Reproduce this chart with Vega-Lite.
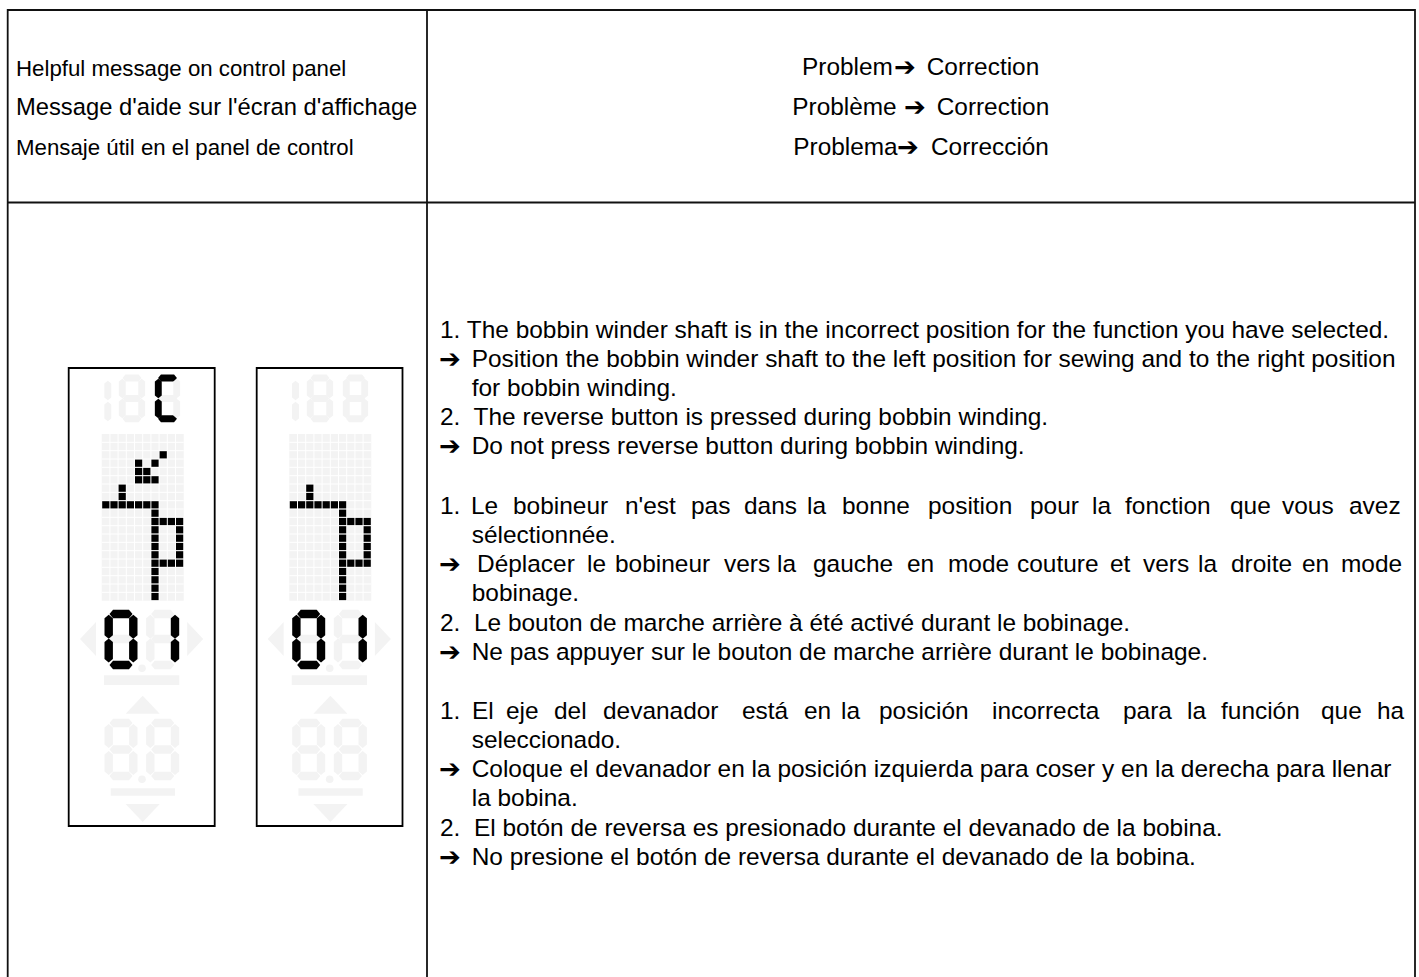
{"$schema":"https://vega.github.io/schema/vega-lite/v6.json","autosize":{"type":"none"},"padding":0,"width":1419,"height":977,"background":"white","view":{"stroke":null},
"config":{"text":{"font":"Liberation Sans, DejaVu Sans","color":"#000000","align":"left","baseline":"alphabetic"}},
"datasets":{
"panelRects":[{"x":101.7,"x2":183.7,"y":434,"y2":600.7},{"x":289.3,"x2":371.3,"y":434,"y2":600.7},{"x":104,"x2":179.3,"y":675.3,"y2":685},{"x":110.7,"x2":175,"y":788.3,"y2":795.7},{"x":291.7,"x2":367,"y":675.3,"y2":685},{"x":298.4,"x2":362.7,"y":788.3,"y2":795.7}],
"grid":[{"x":109.9,"x2":109.9,"y":434,"y2":600.7},{"x":118.1,"x2":118.1,"y":434,"y2":600.7},{"x":126.3,"x2":126.3,"y":434,"y2":600.7},{"x":134.5,"x2":134.5,"y":434,"y2":600.7},{"x":142.7,"x2":142.7,"y":434,"y2":600.7},{"x":150.9,"x2":150.9,"y":434,"y2":600.7},{"x":159.1,"x2":159.1,"y":434,"y2":600.7},{"x":167.3,"x2":167.3,"y":434,"y2":600.7},{"x":175.5,"x2":175.5,"y":434,"y2":600.7},
{"x":297.5,"x2":297.5,"y":434,"y2":600.7},{"x":305.7,"x2":305.7,"y":434,"y2":600.7},{"x":313.9,"x2":313.9,"y":434,"y2":600.7},{"x":322.1,"x2":322.1,"y":434,"y2":600.7},{"x":330.3,"x2":330.3,"y":434,"y2":600.7},{"x":338.5,"x2":338.5,"y":434,"y2":600.7},{"x":346.7,"x2":346.7,"y":434,"y2":600.7},{"x":354.9,"x2":354.9,"y":434,"y2":600.7},{"x":363.1,"x2":363.1,"y":434,"y2":600.7},
{"x":101.7,"x2":183.7,"y":442.3,"y2":442.3},{"x":101.7,"x2":183.7,"y":450.7,"y2":450.7},{"x":101.7,"x2":183.7,"y":459,"y2":459},{"x":101.7,"x2":183.7,"y":467.3,"y2":467.3},{"x":101.7,"x2":183.7,"y":475.7,"y2":475.7},{"x":101.7,"x2":183.7,"y":484,"y2":484},{"x":101.7,"x2":183.7,"y":492.3,"y2":492.3},{"x":101.7,"x2":183.7,"y":500.7,"y2":500.7},{"x":101.7,"x2":183.7,"y":509,"y2":509},{"x":101.7,"x2":183.7,"y":517.3,"y2":517.3},{"x":101.7,"x2":183.7,"y":525.7,"y2":525.7},{"x":101.7,"x2":183.7,"y":534,"y2":534},{"x":101.7,"x2":183.7,"y":542.3,"y2":542.3},{"x":101.7,"x2":183.7,"y":550.7,"y2":550.7},{"x":101.7,"x2":183.7,"y":559,"y2":559},{"x":101.7,"x2":183.7,"y":567.3,"y2":567.3},{"x":101.7,"x2":183.7,"y":575.7,"y2":575.7},{"x":101.7,"x2":183.7,"y":584,"y2":584},{"x":101.7,"x2":183.7,"y":592.3,"y2":592.3},
{"x":289.3,"x2":371.3,"y":442.3,"y2":442.3},{"x":289.3,"x2":371.3,"y":450.7,"y2":450.7},{"x":289.3,"x2":371.3,"y":459,"y2":459},{"x":289.3,"x2":371.3,"y":467.3,"y2":467.3},{"x":289.3,"x2":371.3,"y":475.7,"y2":475.7},{"x":289.3,"x2":371.3,"y":484,"y2":484},{"x":289.3,"x2":371.3,"y":492.3,"y2":492.3},{"x":289.3,"x2":371.3,"y":500.7,"y2":500.7},{"x":289.3,"x2":371.3,"y":509,"y2":509},{"x":289.3,"x2":371.3,"y":517.3,"y2":517.3},{"x":289.3,"x2":371.3,"y":525.7,"y2":525.7},{"x":289.3,"x2":371.3,"y":534,"y2":534},{"x":289.3,"x2":371.3,"y":542.3,"y2":542.3},{"x":289.3,"x2":371.3,"y":550.7,"y2":550.7},{"x":289.3,"x2":371.3,"y":559,"y2":559},{"x":289.3,"x2":371.3,"y":567.3,"y2":567.3},{"x":289.3,"x2":371.3,"y":575.7,"y2":575.7},{"x":289.3,"x2":371.3,"y":584,"y2":584},{"x":289.3,"x2":371.3,"y":592.3,"y2":592.3}],
"lit":[{"x":163.2,"y":454.8},{"x":138.6,"y":463.2},{"x":155,"y":463.2},{"x":138.6,"y":471.5},{"x":146.8,"y":471.5},{"x":138.6,"y":479.8},{"x":146.8,"y":479.8},{"x":155,"y":479.8},
{"x":122.2,"y":488.2},{"x":122.2,"y":496.5},{"x":105.8,"y":504.8},{"x":114,"y":504.8},{"x":122.2,"y":504.8},{"x":130.4,"y":504.8},{"x":138.6,"y":504.8},{"x":146.8,"y":504.8},{"x":155,"y":504.8},{"x":155,"y":513.2},{"x":155,"y":521.5},{"x":163.2,"y":521.5},{"x":171.4,"y":521.5},{"x":179.6,"y":521.5},{"x":155,"y":529.8},{"x":179.6,"y":529.8},{"x":155,"y":538.2},{"x":179.6,"y":538.2},{"x":155,"y":546.5},{"x":179.6,"y":546.5},{"x":155,"y":554.8},{"x":179.6,"y":554.8},{"x":155,"y":563.2},{"x":163.2,"y":563.2},{"x":171.4,"y":563.2},{"x":179.6,"y":563.2},{"x":155,"y":571.5},{"x":155,"y":579.8},{"x":155,"y":588.2},{"x":155,"y":596.5},
{"x":309.8,"y":488.2},{"x":309.8,"y":496.5},{"x":293.4,"y":504.8},{"x":301.6,"y":504.8},{"x":309.8,"y":504.8},{"x":318,"y":504.8},{"x":326.2,"y":504.8},{"x":334.4,"y":504.8},{"x":342.6,"y":504.8},{"x":342.6,"y":513.2},{"x":342.6,"y":521.5},{"x":350.8,"y":521.5},{"x":359,"y":521.5},{"x":367.2,"y":521.5},{"x":342.6,"y":529.8},{"x":367.2,"y":529.8},{"x":342.6,"y":538.2},{"x":367.2,"y":538.2},{"x":342.6,"y":546.5},{"x":367.2,"y":546.5},{"x":342.6,"y":554.8},{"x":367.2,"y":554.8},{"x":342.6,"y":563.2},{"x":350.8,"y":563.2},{"x":359,"y":563.2},{"x":367.2,"y":563.2},{"x":342.6,"y":571.5},{"x":342.6,"y":579.8},{"x":342.6,"y":588.2},{"x":342.6,"y":596.5}],
"bigH":[{"x":121,"y":614,"s":"on"},{"x":121,"y":639,"s":"off"},{"x":121,"y":665,"s":"on"},{"x":162.7,"y":614,"s":"off"},{"x":162.7,"y":639,"s":"off"},{"x":162.7,"y":665,"s":"off"},
{"x":121,"y":723,"s":"off"},{"x":121,"y":749.5,"s":"off"},{"x":121,"y":776,"s":"off"},{"x":162.7,"y":723,"s":"off"},{"x":162.7,"y":749.5,"s":"off"},{"x":162.7,"y":776,"s":"off"},
{"x":308.7,"y":614,"s":"on"},{"x":308.7,"y":639,"s":"off"},{"x":308.7,"y":665,"s":"on"},{"x":350.4,"y":614,"s":"off"},{"x":350.4,"y":639,"s":"off"},{"x":350.4,"y":665,"s":"off"},
{"x":308.7,"y":723,"s":"off"},{"x":308.7,"y":749.5,"s":"off"},{"x":308.7,"y":776,"s":"off"},{"x":350.4,"y":723,"s":"off"},{"x":350.4,"y":749.5,"s":"off"},{"x":350.4,"y":776,"s":"off"}],
"bigV":[{"x":108.7,"y":626.7,"s":"on"},{"x":108.7,"y":650.5,"s":"on"},{"x":133.3,"y":626.7,"s":"on"},{"x":133.3,"y":650.5,"s":"on"},{"x":150.3,"y":626.7,"s":"off"},{"x":150.3,"y":650.5,"s":"off"},{"x":175,"y":626.7,"s":"on"},{"x":175,"y":650.5,"s":"on"},
{"x":108.7,"y":736,"s":"off"},{"x":108.7,"y":763,"s":"off"},{"x":133.3,"y":736,"s":"off"},{"x":133.3,"y":763,"s":"off"},{"x":150.3,"y":736,"s":"off"},{"x":150.3,"y":763,"s":"off"},{"x":175,"y":736,"s":"off"},{"x":175,"y":763,"s":"off"},
{"x":296.4,"y":626.7,"s":"on"},{"x":296.4,"y":650.5,"s":"on"},{"x":321,"y":626.7,"s":"on"},{"x":321,"y":650.5,"s":"on"},{"x":338,"y":626.7,"s":"off"},{"x":338,"y":650.5,"s":"off"},{"x":362.7,"y":626.7,"s":"on"},{"x":362.7,"y":650.5,"s":"on"},
{"x":296.4,"y":736,"s":"off"},{"x":296.4,"y":763,"s":"off"},{"x":321,"y":736,"s":"off"},{"x":321,"y":763,"s":"off"},{"x":338,"y":736,"s":"off"},{"x":338,"y":763,"s":"off"},{"x":362.7,"y":736,"s":"off"},{"x":362.7,"y":763,"s":"off"}],
"smallH":[{"x":132,"y":378,"s":"off"},{"x":132,"y":398.5,"s":"off"},{"x":132,"y":418.7,"s":"off"},{"x":167.5,"y":378,"s":"on"},{"x":167.5,"y":398.5,"s":"off"},{"x":167.5,"y":418.7,"s":"on"},
{"x":320,"y":378,"s":"off"},{"x":320,"y":398.5,"s":"off"},{"x":320,"y":418.7,"s":"off"},{"x":355.5,"y":378,"s":"off"},{"x":355.5,"y":398.5,"s":"off"},{"x":355.5,"y":418.7,"s":"off"}],
"smallV":[{"x":107.8,"y":390.5,"s":"off"},{"x":107.8,"y":411.5,"s":"off"},{"x":122.3,"y":388.5,"s":"off"},{"x":122.3,"y":408.5,"s":"off"},{"x":141.7,"y":388.5,"s":"off"},{"x":141.7,"y":408.5,"s":"off"},{"x":158.3,"y":388.5,"s":"on"},{"x":158.3,"y":408.5,"s":"on"},{"x":176.7,"y":388.5,"s":"off"},{"x":176.7,"y":408.5,"s":"off"},
{"x":295.5,"y":390.5,"s":"off"},{"x":295.5,"y":411.5,"s":"off"},{"x":310.3,"y":388.5,"s":"off"},{"x":310.3,"y":408.5,"s":"off"},{"x":329.7,"y":388.5,"s":"off"},{"x":329.7,"y":408.5,"s":"off"},{"x":346.3,"y":388.5,"s":"off"},{"x":346.3,"y":408.5,"s":"off"},{"x":364.7,"y":388.5,"s":"off"},{"x":364.7,"y":408.5,"s":"off"}]
},
"encoding":{"x":{"field":"x","type":"quantitative","scale":{"domain":[0,1419],"range":[0,1419],"nice":false,"zero":false},"axis":null},"y":{"field":"y","type":"quantitative","scale":{"domain":[0,977],"range":[0,977],"nice":false,"zero":false},"axis":null}},
"layer":[
{"data":{"values":[{"x":7.7,"y":10,"x2":1415,"y2":10},{"x":7.7,"y":202.5,"x2":1415,"y2":202.5},{"x":7.7,"y":9,"x2":7.7,"y2":977},{"x":427,"y":9,"x2":427,"y2":977},{"x":1415,"y":9,"x2":1415,"y2":977}]},"mark":{"type":"rule","color":"#111111","strokeWidth":1.8},"encoding":{"x2":{"field":"x2"},"y2":{"field":"y2"}}},
{"data":{"values":[{"x":68.7,"x2":214.7,"y":368,"y2":826},{"x":256.7,"x2":402.5,"y":368,"y2":826}]},"mark":{"type":"rect","fill":"#ffffff","stroke":"#000000","strokeWidth":1.8},"encoding":{"x2":{"field":"x2"},"y2":{"field":"y2"}}},
{"data":{"name":"panelRects"},"mark":{"type":"rect","fill":"#f3f3f3"},"encoding":{"x2":{"field":"x2"},"y2":{"field":"y2"}}},
{"data":{"name":"grid"},"mark":{"type":"rule","color":"#ffffff","strokeWidth":1},"encoding":{"x2":{"field":"x2"},"y2":{"field":"y2"}}},
{"data":{"name":"lit"},"mark":{"type":"square","filled":true,"size":52,"opacity":1,"color":"#000000"}},
{"data":{"name":"bigH"},"mark":{"type":"point","filled":true,"opacity":1,"size":4,"shape":"M-11.5,0 L-8,-4.2 L8,-4.2 L11.5,0 L8,4.2 L-8,4.2 Z"},"encoding":{"color":{"field":"s","type":"nominal","scale":{"domain":["off","on"],"range":["#f3f3f3","#000000"]},"legend":null},"order":{"field":"s"}}},
{"data":{"name":"bigV"},"mark":{"type":"point","filled":true,"opacity":1,"size":4,"shape":"M0,-12 L4.2,-8.5 L4.2,8.5 L0,12 L-4.2,8.5 L-4.2,-8.5 Z"},"encoding":{"color":{"field":"s","type":"nominal","scale":{"domain":["off","on"],"range":["#f3f3f3","#000000"]},"legend":null},"order":{"field":"s"}}},
{"data":{"name":"smallH"},"mark":{"type":"point","filled":true,"opacity":1,"size":2.7,"shape":"M-11.5,0 L-8,-4.2 L8,-4.2 L11.5,0 L8,4.2 L-8,4.2 Z"},"encoding":{"color":{"field":"s","type":"nominal","scale":{"domain":["off","on"],"range":["#f3f3f3","#000000"]},"legend":null},"order":{"field":"s"}}},
{"data":{"name":"smallV"},"mark":{"type":"point","filled":true,"opacity":1,"size":2.7,"shape":"M0,-12 L4.2,-8.5 L4.2,8.5 L0,12 L-4.2,8.5 L-4.2,-8.5 Z"},"encoding":{"color":{"field":"s","type":"nominal","scale":{"domain":["off","on"],"range":["#f3f3f3","#000000"]},"legend":null},"order":{"field":"s"}}},
{"data":{"values":[{"x":142,"y":668.3},{"x":142,"y":779.3},{"x":329.7,"y":668.3},{"x":329.7,"y":779.3}]},"mark":{"type":"circle","size":58,"opacity":1,"color":"#f3f3f3"}},
{"data":{"values":[{"x":88,"y":639},{"x":275.7,"y":639}]},"mark":{"type":"point","filled":true,"opacity":1,"size":4,"color":"#f3f3f3","shape":"M-8,0 L8,-17 L8,17 Z"}},
{"data":{"values":[{"x":195.2,"y":639},{"x":382.9,"y":639}]},"mark":{"type":"point","filled":true,"opacity":1,"size":4,"color":"#f3f3f3","shape":"M8,0 L-8,-17 L-8,17 Z"}},
{"data":{"values":[{"x":142.7,"y":704.7},{"x":330.4,"y":704.7}]},"mark":{"type":"point","filled":true,"opacity":1,"size":4,"color":"#f3f3f3","shape":"M0,-9 L17,9 L-17,9 Z"}},
{"data":{"values":[{"x":142.7,"y":813},{"x":330.4,"y":813}]},"mark":{"type":"point","filled":true,"opacity":1,"size":4,"color":"#f3f3f3","shape":"M0,9 L17,-9 L-17,-9 Z"}},
{"data":{"values":[{"t":"Helpful message on control panel","x":16,"y":75.5},{"t":"Mensaje útil en el panel de control","x":16,"y":155}]},"mark":{"type":"text","fontSize":22.25},"encoding":{"text":{"field":"t"}}},
{"data":{"values":[{"t":"Message d'aide sur l'écran d'affichage","x":16,"y":115}]},"mark":{"type":"text","fontSize":23.75},"encoding":{"text":{"field":"t"}}},
{"data":{"values":[{"t":"Problem","x":802,"y":75},{"t":"Correction","x":926.7,"y":75},{"t":"Problème","x":792.3,"y":115},{"t":"Correction","x":936.7,"y":115},{"t":"Problema","x":793.3,"y":155},{"t":"Corrección","x":931,"y":155}]},"mark":{"type":"text","fontSize":24.4},"encoding":{"text":{"field":"t"}}},
{"data":{"values":[{"t":"➔","x":894,"y":76},{"t":"➔","x":904,"y":116},{"t":"➔","x":897,"y":156},{"t":"➔","x":439,"y":368},{"t":"➔","x":439,"y":455},{"t":"➔","x":439,"y":573},{"t":"➔","x":439,"y":661},{"t":"➔","x":439,"y":778},{"t":"➔","x":439,"y":866}]},"mark":{"type":"text","font":"DejaVu Sans","fontWeight":"bold","fontSize":26},"encoding":{"text":{"field":"t"}}},
{"data":{"values":[{"t":"1. The bobbin winder shaft is in the incorrect position for the function you have selected.","x":440,"y":338},{"t":"Position the bobbin winder shaft to the left position for sewing and to the right position","x":471.7,"y":367},{"t":"for bobbin winding.","x":471.7,"y":396},{"t":"2.\u00a0 The reverse button is pressed during bobbin winding.","x":440,"y":425},{"t":"Do not press reverse button during bobbin winding.","x":471.7,"y":454},
{"t":"sélectionnée.","x":471.7,"y":543},{"t":"bobinage.","x":471.7,"y":601},{"t":"2.\u00a0 Le bouton de marche arrière à été activé durant le bobinage.","x":440,"y":630.5},{"t":"Ne pas appuyer sur le bouton de marche arrière durant le bobinage.","x":471.7,"y":660},
{"t":"seleccionado.","x":471.7,"y":748},{"t":"Coloque el devanador en la posición izquierda para coser y en la derecha para llenar","x":471.7,"y":777},{"t":"la bobina.","x":471.7,"y":806},{"t":"2.\u00a0 El botón de reversa es presionado durante el devanado de la bobina.","x":440,"y":835.5},{"t":"No presione el botón de reversa durante el devanado de la bobina.","x":471.7,"y":865}]},"mark":{"type":"text","fontSize":24.45},"encoding":{"text":{"field":"t"}}},
{"data":{"values":[{"t":"1.","x":440,"y":514},{"t":"Le","x":471,"y":514},{"t":"bobineur","x":513,"y":514},{"t":"n'est","x":625,"y":514},{"t":"pas","x":691,"y":514},{"t":"dans","x":744,"y":514},{"t":"la","x":807,"y":514},{"t":"bonne","x":842,"y":514},{"t":"position","x":928,"y":514},{"t":"pour","x":1030,"y":514},{"t":"la","x":1092,"y":514},{"t":"fonction","x":1125,"y":514},{"t":"que","x":1230,"y":514},{"t":"vous","x":1282,"y":514},{"t":"avez","x":1349,"y":514},
{"t":"Déplacer","x":477,"y":572},{"t":"le","x":587,"y":572},{"t":"bobineur","x":615,"y":572},{"t":"vers","x":724,"y":572},{"t":"la","x":777,"y":572},{"t":"gauche","x":813,"y":572},{"t":"en","x":907,"y":572},{"t":"mode","x":948,"y":572},{"t":"couture","x":1017,"y":572},{"t":"et","x":1110,"y":572},{"t":"vers","x":1143,"y":572},{"t":"la","x":1198,"y":572},{"t":"droite","x":1231,"y":572},{"t":"en","x":1302,"y":572},{"t":"mode","x":1341,"y":572},
{"t":"1.","x":440,"y":719},{"t":"El","x":472,"y":719},{"t":"eje","x":506,"y":719},{"t":"del","x":554,"y":719},{"t":"devanador","x":603,"y":719},{"t":"está","x":742,"y":719},{"t":"en","x":804,"y":719},{"t":"la","x":841,"y":719},{"t":"posición","x":879,"y":719},{"t":"incorrecta","x":992,"y":719},{"t":"para","x":1123,"y":719},{"t":"la","x":1187,"y":719},{"t":"función","x":1221,"y":719},{"t":"que","x":1321,"y":719},{"t":"ha","x":1377,"y":719}]},"mark":{"type":"text","fontSize":24.45},"encoding":{"text":{"field":"t"}}}
]}
